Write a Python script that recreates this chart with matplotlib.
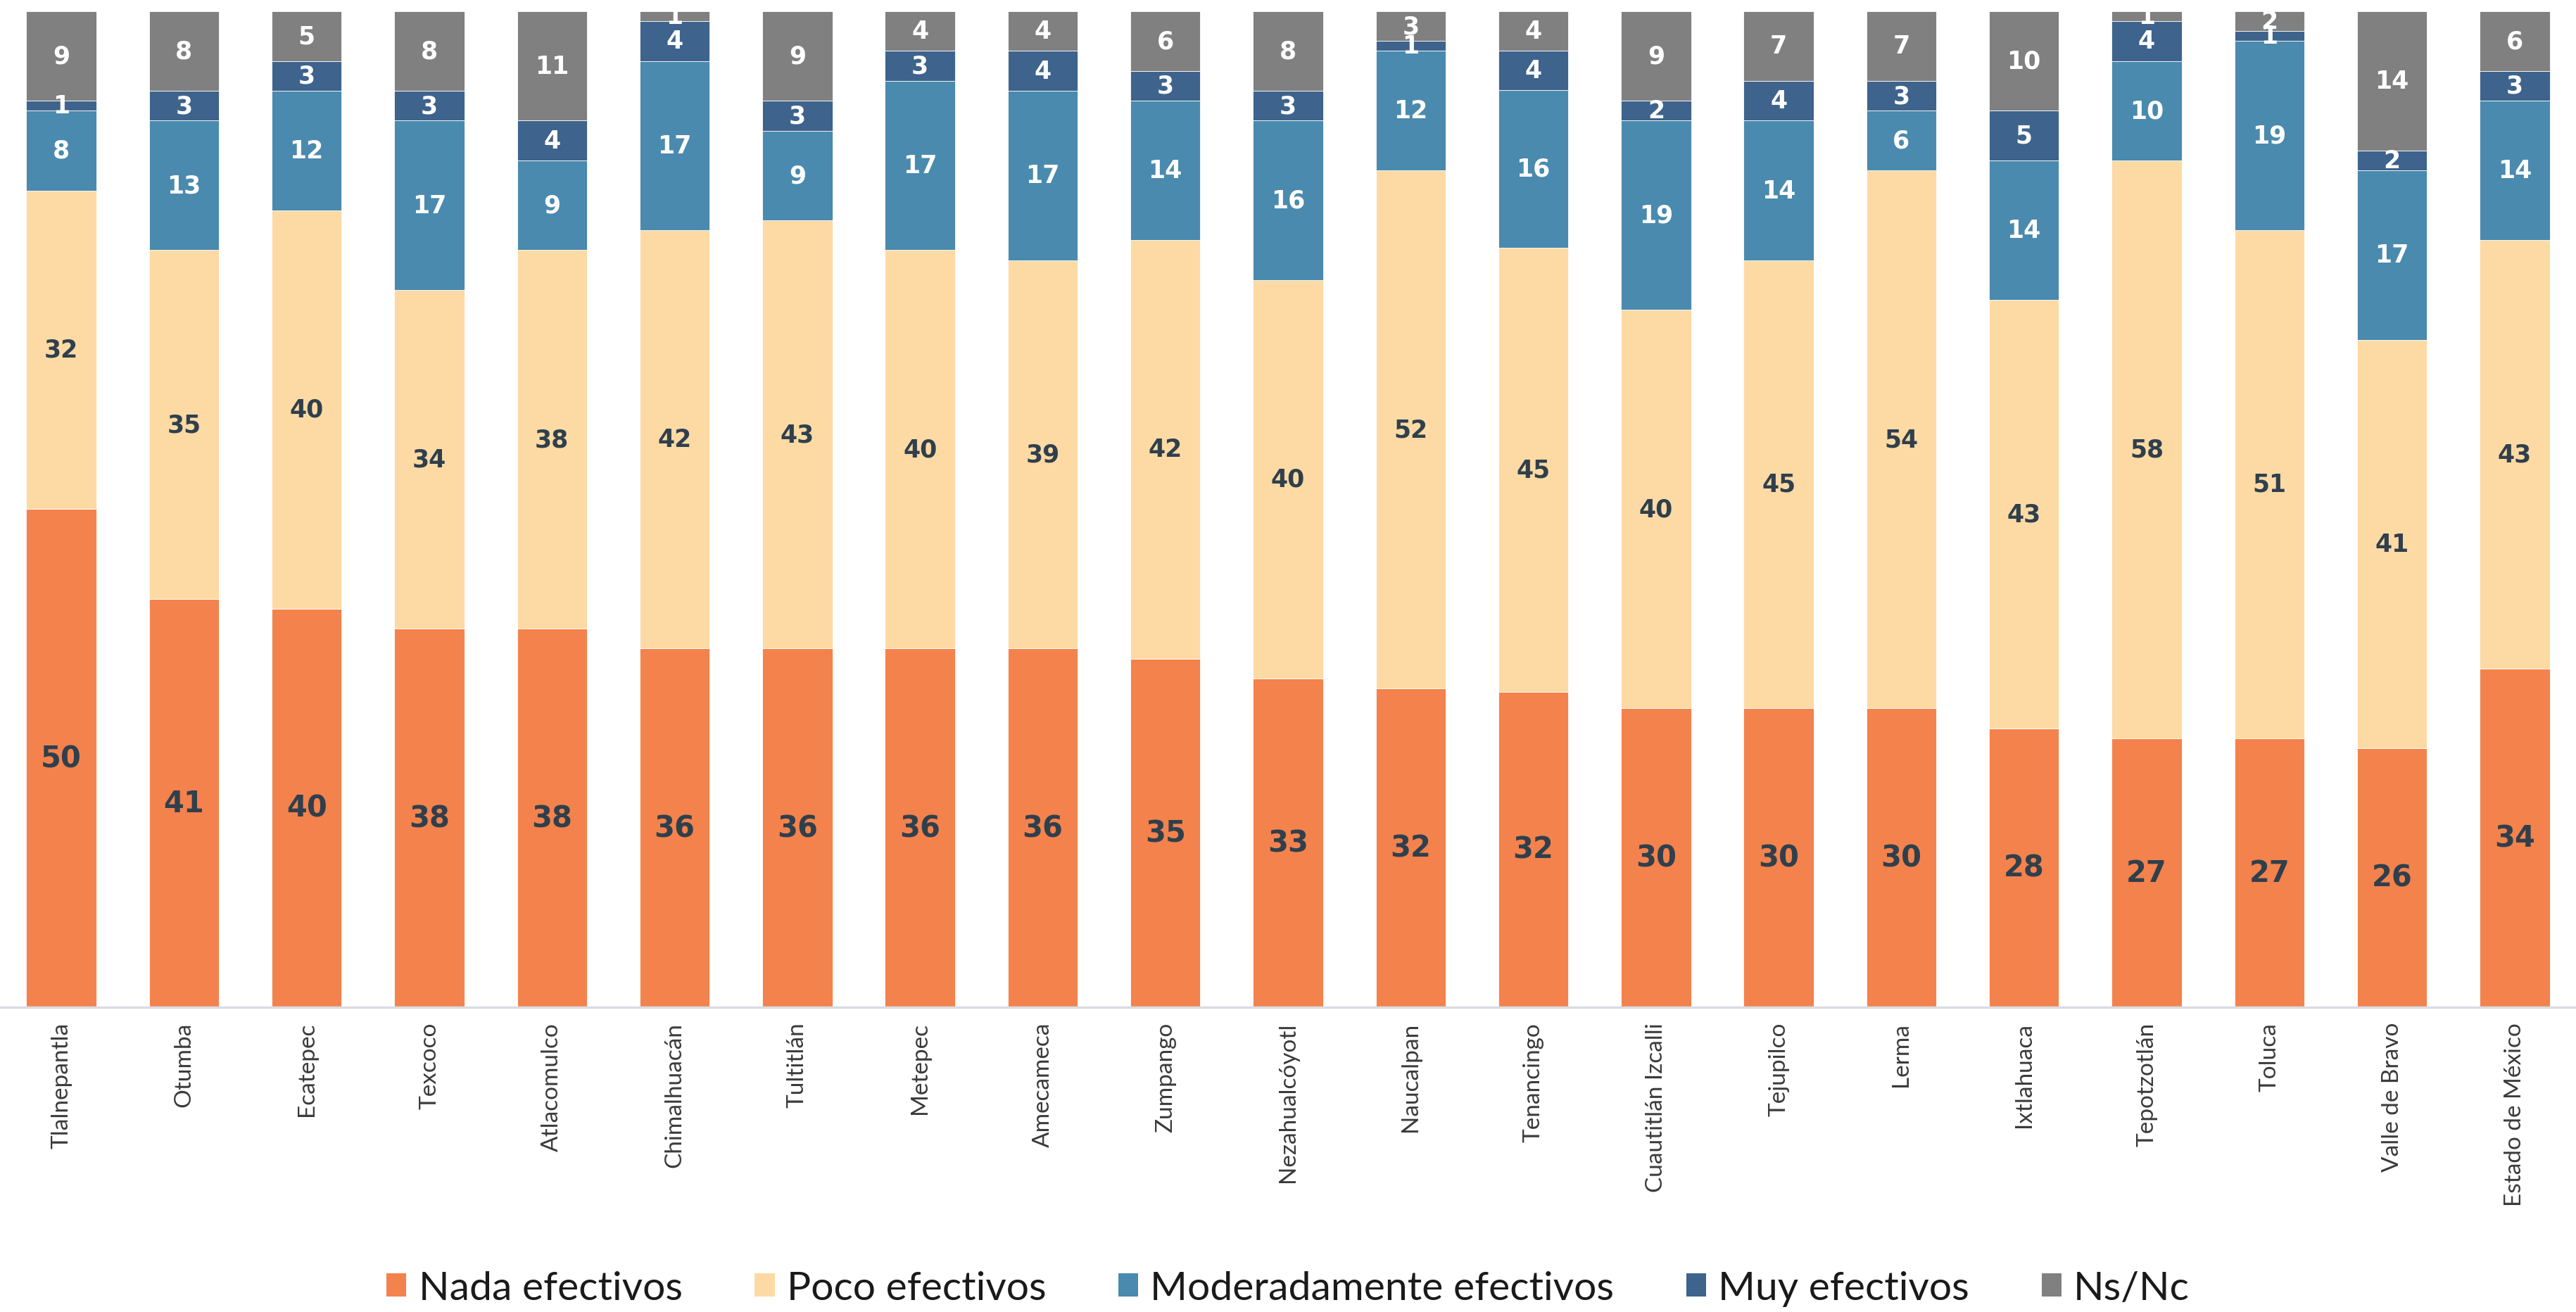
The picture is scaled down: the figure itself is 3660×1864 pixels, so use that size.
import matplotlib
matplotlib.use('Agg')
import matplotlib.pyplot as plt
import numpy as np
from matplotlib.patches import Patch

# ==========================================
# datos (porcentajes)
# ==========================================
municipios = ['Tlalnepantla', 'Otumba', 'Ecatepec', 'Texcoco', 'Atlacomulco',
              'Chimalhuacán', 'Tultitlán', 'Metepec', 'Amecameca', 'Zumpango',
              'Nezahualcóyotl', 'Naucalpan', 'Tenancingo', 'Cuautitlán Izcalli',
              'Tejupilco', 'Lerma', 'Ixtlahuaca', 'Tepotzotlán', 'Toluca',
              'Valle de Bravo', 'Estado de México']

nada = [50, 41, 40, 38, 38, 36, 36, 36, 36, 35, 33, 32, 32, 30, 30, 30, 28, 27, 27, 26, 34]
poco = [32, 35, 40, 34, 38, 42, 43, 40, 39, 42, 40, 52, 45, 40, 45, 54, 43, 58, 51, 41, 43]
moderado = [8, 13, 12, 17, 9, 17, 9, 17, 17, 14, 16, 12, 16, 19, 14, 6, 14, 10, 19, 17, 14]
muy = [1, 3, 3, 3, 4, 4, 3, 3, 4, 3, 3, 1, 4, 2, 4, 3, 5, 4, 1, 2, 3]
nsnc = [9, 8, 5, 8, 11, 1, 9, 4, 4, 6, 8, 3, 4, 9, 7, 7, 10, 1, 2, 14, 6]

series = [
    ('Nada efectivos', nada, '#F4824C', '#2F3F4C', 30),
    ('Poco efectivos', poco, '#FDDAA4', '#2F3F4C', 25),
    ('Moderadamente efectivos', moderado, '#4A8AAE', 'white', 25),
    ('Muy efectivos', muy, '#3E638C', 'white', 25),
    ('Ns/Nc', nsnc, '#808080', 'white', 25),
]

# ==========================================
# figura
# ==========================================
fig = plt.figure(figsize=(36.6, 18.65), dpi=100)
ax = fig.add_axes([0.0, 0.2322, 1.0, 0.7588])

x = np.arange(len(municipios))
# cada barra se escala a 100 (redondeos)
totales = np.sum([s[1] for s in series], axis=0)
bottom = np.zeros(len(municipios))

for nombre, vals, color, tcolor, fs in series:
    vals = np.array(vals, dtype=float)
    alto = vals / totales * 100
    ax.bar(x, alto, 0.57, bottom=bottom, color=color,
           edgecolor='white', linewidth=0.6, label=nombre)
    for xi, b, h, v in zip(x, bottom, alto, vals):
        ax.text(xi, b + h / 2, f'{int(v)}', ha='center', va='center',
                color=tcolor, fontsize=fs, fontweight='bold',
                family='DejaVu Sans')
    bottom += alto

ax.set_xlim(-0.5, len(municipios) - 0.5)
ax.set_ylim(0, 100)
ax.set_yticks([])
ax.set_xticks(x)
ax.set_xticklabels(municipios, rotation=90, fontsize=24, color='#3a3a3a',
                   family='Lato')
ax.tick_params(axis='x', length=0, pad=15)

for lado in ['top', 'right', 'left']:
    ax.spines[lado].set_visible(False)
ax.spines['bottom'].set_color('#D9DDE2')
ax.spines['bottom'].set_linewidth(2.5)

handles = [Patch(facecolor=s[2], edgecolor='none', label=s[0]) for s in series]
fig.legend(handles=handles, loc='center', bbox_to_anchor=(0.5, 0.018),
           ncol=5, frameon=False,
           prop={'family': 'Lato', 'size': 41},
           handlelength=0.5, handleheight=0.5, handletextpad=0.3,
           columnspacing=1.8, labelcolor='#1a1a1a')

fig.savefig('out.png', dpi=100)
